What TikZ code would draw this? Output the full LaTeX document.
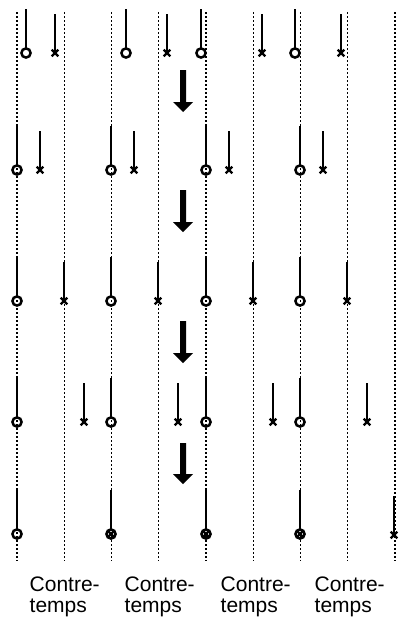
\documentclass[tikz,border=0pt]{standalone}
\usepackage{fontspec}
\setmainfont{Liberation Sans}
\newcommand\ringnote[2]{%
  \draw[stem] ({#1},{#2-44}) -- ({#1},{#2-4.8});
  \draw[ring] ({#1},{#2}) circle[radius=4.6pt];}
\newcommand\ringxnote[2]{%
  \draw[stem] ({#1},{#2-44}) -- ({#1},{#2-4.8});
  \draw[ring] ({#1},{#2}) circle[radius=4.6pt];
  \draw[xmark] ({#1-3},{#2-3}) -- ({#1+3},{#2+3}) ({#1-3},{#2+3}) -- ({#1+3},{#2-3});}
\newcommand\crossnote[2]{%
  \draw[stem] ({#1},{#2-39}) -- ({#1},{#2});
  \draw[xmark] ({#1-3.3},{#2-3.3}) -- ({#1+3.3},{#2+3.3}) ({#1-3.3},{#2+3.3}) -- ({#1+3.3},{#2-3.3});}
\newcommand\bigdownarrow[2]{%
  \fill[bigarrow] ({183-3},{#1}) -- ({183+3},{#1}) -- ({183+3},{#2-10}) -- ({183+10},{#2-10})
    -- (183,{#2}) -- ({183-10},{#2-10}) -- ({183-3},{#2-10}) -- cycle;}
\begin{document}
\begin{tikzpicture}[x=1pt,y=-1pt,
  guide/.style={line width=1.1pt, dash pattern=on 2pt off 2pt},
  stem/.style={line width=2.7pt},
  ring/.style={line width=2.5pt},
  xmark/.style={line width=2.3pt},
  bigarrow/.style={fill=black},
  lbl/.style={font=\fontsize{21}{24}\selectfont, anchor=base west, inner sep=0pt}]
\useasboundingbox (0,0) rectangle (401,621);
\foreach \i in {0,...,8} \draw[guide] ({17+47.25*\i},12) -- ({17+47.25*\i},561);
% row 1
\ringnote{26}{53}\ringnote{126}{53}\ringnote{201}{53}\ringnote{295}{53}
\crossnote{55}{53}\crossnote{167}{53}\crossnote{262}{53}\crossnote{341}{53}
\bigdownarrow{70}{112}
% row 2
\ringnote{17}{170}\ringnote{111}{170}\ringnote{206}{170}\ringnote{300}{170}
\crossnote{40}{170}\crossnote{134}{170}\crossnote{229}{170}\crossnote{323}{170}
\bigdownarrow{190}{232}
% row 3
\ringnote{17}{301}\ringnote{111}{301}\ringnote{206}{301}\ringnote{300}{301}
\crossnote{64}{301}\crossnote{158}{301}\crossnote{253}{301}\crossnote{347}{301}
\bigdownarrow{321}{363}
% row 4
\ringnote{17}{422}\ringnote{111}{422}\ringnote{206}{422}\ringnote{300}{422}
\crossnote{84}{422}\crossnote{178}{422}\crossnote{273}{422}\crossnote{367}{422}
\bigdownarrow{443}{484}
% row 5
\ringnote{17}{534}\ringxnote{111}{534}\ringxnote{206}{534}\ringxnote{300}{534}
\crossnote{394}{535}
% labels
\node[lbl] (c1) at (29.5,591) {Contre-};
\node[lbl] (t1) at (29.5,612) {temps};
\node[lbl] (c2) at (124.5,591) {Contre-};
\node[lbl] (t2) at (124.5,612) {temps};
\node[lbl] (c3) at (220.5,591) {Contre-};
\node[lbl] (t3) at (220.5,612) {temps};
\node[lbl] (c4) at (314.5,591) {Contre-};
\node[lbl] (t4) at (314.5,612) {temps};
\end{tikzpicture}
\end{document}
